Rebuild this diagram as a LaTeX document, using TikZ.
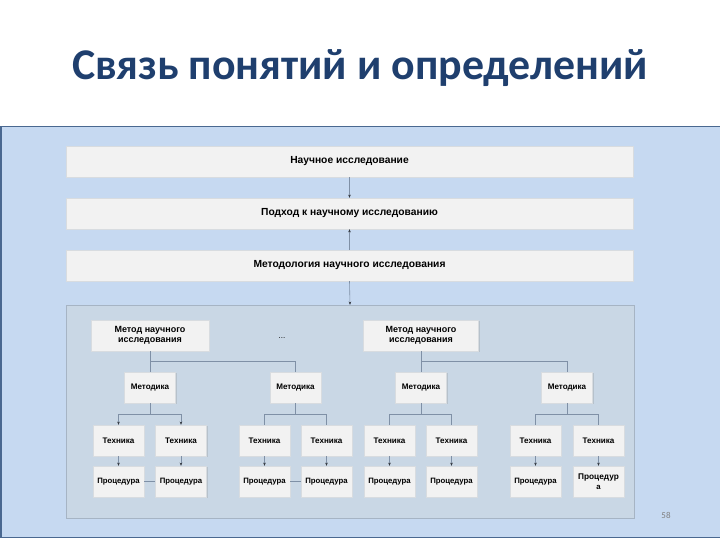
\documentclass[tikz,border=0pt]{standalone}
\usepackage{fontspec}
\setmainfont{Liberation Sans}
\newfontfamily\titlefont{Carlito}
\usetikzlibrary{shadows,arrows.meta}
\definecolor{titleblue}{HTML}{1F3F6E}
\definecolor{panelblue}{HTML}{C6D9F1}
\definecolor{panelborder}{HTML}{4A6890}
\definecolor{innerfill}{HTML}{C9D7E5}
\definecolor{innerborder}{HTML}{A6B4C4}
\definecolor{boxfill}{HTML}{F2F2F2}
\definecolor{boxborder}{HTML}{D8DCE0}
\definecolor{linegray}{HTML}{7F90A6}
\definecolor{tipdark}{HTML}{333840}
\tikzset{
  box/.style={draw=boxborder, fill=boxfill, rectangle, inner sep=1bp, align=center,
    drop shadow={opacity=0.25, shadow xshift=1bp, shadow yshift=-1.2bp}},
  widebox/.style={box, minimum width=567bp, minimum height=31bp, font=\bfseries\fontsize{10.3}{12}\selectfont},
  methbox/.style={box, minimum height=31bp, font=\bfseries\fontsize{9}{10.5}\selectfont},
  smallbox/.style={box, minimum width=51bp, minimum height=31bp, font=\bfseries\fontsize{8.1}{9.5}\selectfont},
  procbox/.style={box, minimum width=51bp, minimum height=31bp, font=\bfseries\fontsize{7.8}{9.5}\selectfont},
  conn/.style={draw=linegray, line width=0.6bp},
  arr/.style={conn, -{Stealth[length=3.2bp,width=2.6bp,color=tipdark]}},
}
\begin{document}
\begin{tikzpicture}[x=1bp,y=-1bp]
\useasboundingbox (0,0) rectangle (720,540);
\fill[white] (0,0) rectangle (720,540);
\node[font=\titlefont\bfseries\fontsize{44}{50}\selectfont, text=titleblue] (title) at (360,68) {Связь понятий и определений};
\draw[panelborder, fill=panelblue, line width=1.5bp] (0.75,126.5) rectangle (721,537.5);
\node[draw=innerborder, fill=innerfill, minimum width=568bp, minimum height=213bp, inner sep=0pt] (inner) at (350,411.5) {};
\node[widebox] (n1) at (349.5,161.5) {Научное исследование};
\node[widebox] (n2) at (349.5,213.5) {Подход к научному исследованию};
\node[widebox] (n3) at (349.5,265.5) {Методология научного исследования};
\draw[arr] (n1.south) -- (n2.north);
\draw[arr] (n3.north) -- (n2.south);
\draw[arr] (n3.south) -- (inner.north);
% methods
\node[methbox, minimum width=118bp] (m1) at (150,335.5) {Метод научного\\исследования};
\node[font=\fontsize{8}{9}\selectfont] (dots) at (282,338) {...};
\node[methbox, minimum width=115bp] (m2) at (421,335.5) {Метод научного\\исследования};
% methodics
\node[smallbox] (k1) at (150,387.5) {Методика};
\node[smallbox] (k2) at (295.5,387.5) {Методика};
\node[smallbox] (k3) at (421,387.5) {Методика};
\node[smallbox] (k4) at (567,387.5) {Методика};
\draw[conn] (m1.south) -- (k1.north);
\draw[conn] (m1.south) |- ([yshift=11bp]k2.north) -- (k2.north);
\draw[conn] (m2.south) -- (k3.north);
\draw[conn] (m2.south) |- ([yshift=11bp]k4.north) -- (k4.north);
% techniques and procedures
\foreach \i/\x/\txt in {1/118.5/Процедура,2/181/Процедура,3/264.5/Процедура,4/326.5/Процедура,5/389.5/Процедура,6/451.5/Процедура,7/535.5/Процедура,8/598.5/{\fontsize{8.3}{9.5}\selectfont Процедур\\а}}{
  \node[smallbox] (t\i) at (\x,440.5) {Техника};
  \node[procbox] (p\i) at (\x,481.5) {\txt};
  \draw[arr] (t\i.south) -- (p\i.north);
}
\draw[arr] (k1.south) -- ++(0,11) -| (t1.north);
\draw[arr] (k1.south) -- ++(0,11) -| (t2.north);
\draw[conn] (k2.south) -- ++(0,11) -| (t3.north);
\draw[conn] (k2.south) -- ++(0,11) -| (t4.north);
\draw[conn] (k3.south) -- ++(0,11) -| (t5.north);
\draw[conn] (k3.south) -- ++(0,11) -| (t6.north);
\draw[conn] (k4.south) -- ++(0,11) -| (t7.north);
\draw[conn] (k4.south) -- ++(0,11) -| (t8.north);
\draw[conn] (p1.east) -- (p2.west);
\draw[conn] (p3.east) -- (p4.west);
\node[font=\titlefont\fontsize{9}{10}\selectfont, text=gray] (num) at (666,515) {58};
\end{tikzpicture}
\end{document}
